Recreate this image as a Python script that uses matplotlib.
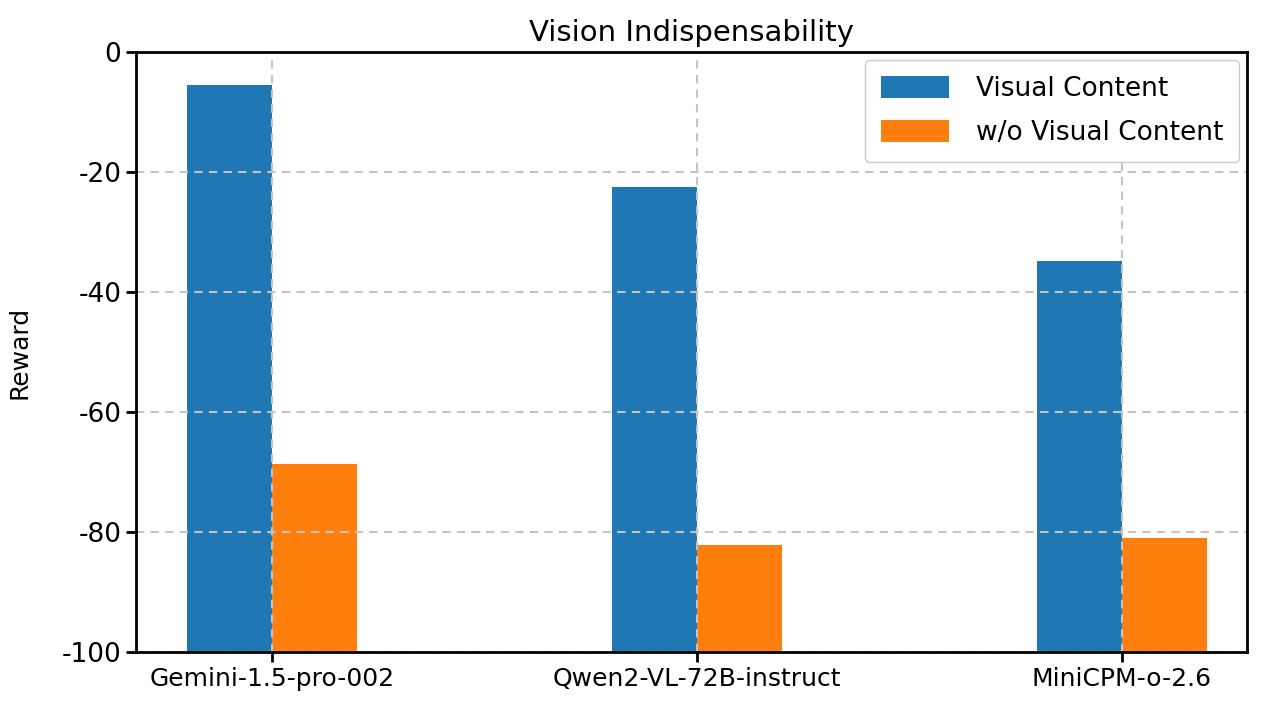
import matplotlib.pyplot as plt
import numpy as np

# data
models = ['Gemini-1.5-pro-002', 'Qwen2-VL-72B-instruct', 'MiniCPM-o-2.6']
visual = [-5.5, -22.5, -34.8]
no_visual = [-68.7, -82.2, -81.0]
yticks = [0, -20, -40, -60, -80, -100]

plt.rcParams['font.family'] = ['DejaVu Sans']

fig = plt.figure(figsize=(12.63, 7.15), dpi=100)
ax = fig.add_axes([136/1263, 1 - 652/715, (1247-136)/1263, 600/715])

x = np.arange(len(models))
w = 0.2
base = -100
ax.bar(x - w/2, np.array(visual) - base, w, bottom=base, color='#1f77b4', label='Visual Content', zorder=1)
ax.bar(x + w/2, np.array(no_visual) - base, w, bottom=base, color='#ff7f0e', label='w/o Visual Content', zorder=1)

ax.set_xlim(-0.32, 2.294)
ax.set_ylim(-100, 0)
ax.set_xticks(x)
ax.set_xticklabels(models, fontsize=18)
ax.set_yticks(yticks)
ax.set_yticklabels([str(t) for t in yticks], fontsize=19)
ax.set_ylabel('Reward', fontsize=18, labelpad=22)
ax.set_title('Vision Indispensability', fontsize=21, pad=8)
ax.grid(True, linestyle=(0, (4, 3)), color='#c4c4c4', linewidth=1.5, zorder=3)
ax.set_axisbelow(False)
for s in ax.spines.values():
    s.set_linewidth(2)
    s.set_zorder(5)
ax.tick_params(width=2, length=7)

ax.legend(loc='upper right', fontsize=19, handlelength=2.6, handleheight=0.9, borderpad=0.6,
          labelspacing=0.7, handletextpad=1.0, framealpha=1, edgecolor='#cccccc', fancybox=True,
          borderaxespad=0.3)

fig.savefig('out.png', dpi=100)
